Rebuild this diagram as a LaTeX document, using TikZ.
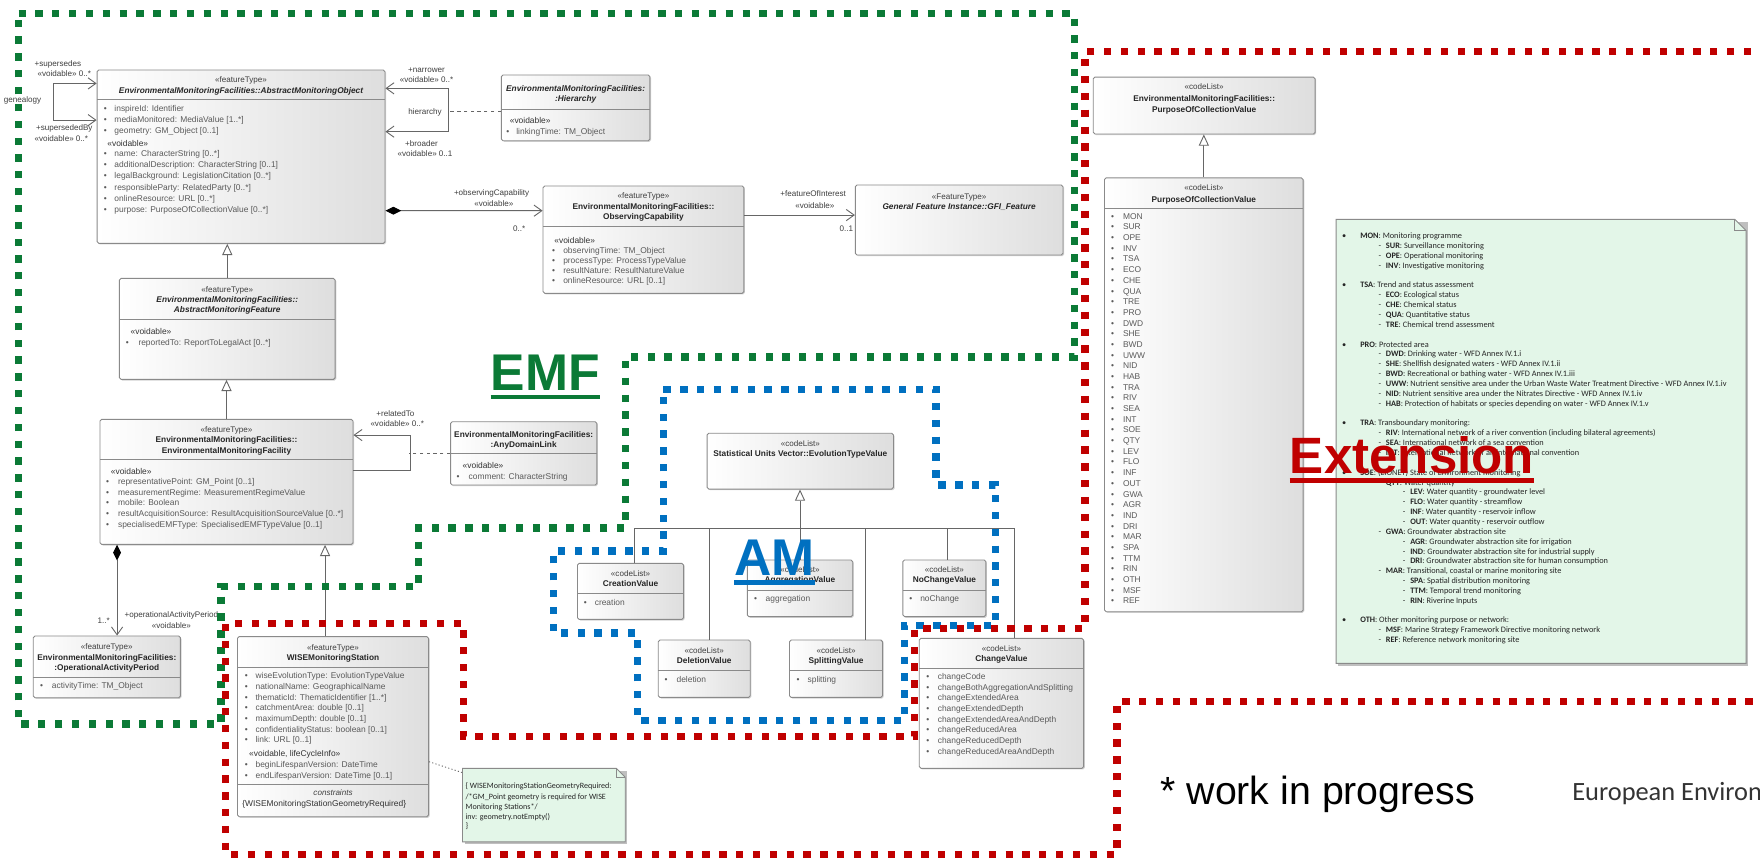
\documentclass[tikz,border=0pt]{standalone}
\usepackage{fontspec}
\setmainfont{Liberation Sans}
\newfontfamily\carlito{Carlito}
\usetikzlibrary{arrows.meta,fit,shadows,calc}
\definecolor{emfgreen}{HTML}{0B7A36}
\definecolor{amblue}{HTML}{0070C0}
\definecolor{extred}{HTML}{C00000}
\definecolor{boxline}{HTML}{8A8A8A}
\definecolor{txtgray}{HTML}{5A5A5A}
\definecolor{notefill}{HTML}{E3F6E8}
\tikzset{
 umlbox/.style={draw=boxline, line width=0.8pt, rounded corners=1.5pt, left color=white, right color=black!13, inner sep=0pt,
   drop shadow={shadow xshift=1pt, shadow yshift=-1pt, fill=black!35, opacity=0.5}},
 divl/.style={draw=boxline, line width=0.8pt},
 stx/.style={font=\fontsize{7.2}{8}\selectfont, text=black!75, inner sep=0pt, anchor=base},
 ttl/.style={font=\bfseries\fontsize{7.4}{8}\selectfont, text=black!85, inner sep=0pt, anchor=base},
 ttli/.style={font=\bfseries\itshape\fontsize{7.4}{8}\selectfont, text=black!85, inner sep=0pt, anchor=base},
 att/.style={font=\fontsize{7.5}{8}\selectfont, text=txtgray, inner sep=0pt, anchor=base west},
 vdb/.style={font=\fontsize{7.5}{8}\selectfont, text=black!80, inner sep=0pt, anchor=base west},
 lbl/.style={font=\fontsize{7.2}{8}\selectfont, text=black!75, inner sep=0pt, anchor=base},
 nt/.style={font=\carlito\fontsize{7.4}{8}\selectfont, text=black!85, inner sep=0pt, anchor=base west},
 conn/.style={draw=black!60, line width=0.8pt},
 nav/.style={conn, -{Straight Barb[length=7pt,width=10pt]}},
 gen/.style={conn, -{Triangle[open, length=10pt, width=9pt, fill=white]}},
 comp/.style={conn, {Diamond[length=14pt,width=7pt,color=black]}-{Straight Barb[length=7pt,width=10pt]}},
 region/.style={line width=6.5pt, dash pattern=on 6.5pt off 8.5pt},
}
\newcommand{\ust}[3]{\node[stx] at (#1,#2+2.4) {#3};}
\newcommand{\uhd}[3]{\node[ttl] at (#1,#2+2.6) {#3};}
\newcommand{\uhdi}[3]{\node[ttli] at (#1,#2+2.6) {#3};}
\newcommand{\uatt}[4]{\node[att] at (#1,#3+2.5) {\textbullet}; \node[att] at (#2,#3+2.5) {#4};}
\newcommand{\uvd}[3]{\node[vdb] at (#1,#2+2.5) {#3};}
\newcommand{\alab}[3]{\node[lbl] at (#1,#2+2.4) {#3};}
\newcommand{\nline}[4]{%
  \pgfmathsetmacro{\nly}{210.3+(#1-1)*8.78+2.3}%
  \ifcase#2\relax
    \node[nt] at (1195.4,\nly) {\textbullet};\node[nt] at (1211.7,\nly) {\textbf{#3}: #4};%
  \or
    \node[nt] at (1228,\nly) {-};\node[nt] at (1234.5,\nly) {\textbf{#3}: #4};%
  \or
    \node[nt] at (1249.7,\nly) {-};\node[nt] at (1256.2,\nly) {\textbf{#3}: #4};%
  \fi}
\begin{document}
\begin{tikzpicture}[x=1pt,y=-1pt]
\useasboundingbox (0,0) rectangle (1568,769);
\clip (0,0) rectangle (1568,769);
\fill[white] (0,0) rectangle (1568,769);

%% AbstractMonitoringObject
\node[umlbox, fit={(86.5,62.4) (343,216.8)}] (amo) {};
\draw[divl] (86.5,89) -- (343,89);
\ust{214.75}{71.3}{«featureType»}
\uhdi{214.75}{81}{EnvironmentalMonitoringFacilities::AbstractMonitoringObject}
\uatt{92.3}{101.8}{96.5}{inspireId: Identifier}
\uatt{92.3}{101.8}{106.3}{mediaMonitored: MediaValue [1..*]}
\uatt{92.3}{101.8}{116.7}{geometry: GM\_Object [0..1]}
\uvd{95.5}{128}{«voidable»}
\uatt{92.3}{101.8}{137}{name: CharacterString [0..*]}
\uatt{92.3}{101.8}{147}{additionalDescription: CharacterString [0..1]}
\uatt{92.3}{101.8}{156.8}{legalBackground: LegislationCitation [0..*]}
\uatt{92.3}{101.8}{167}{responsibleParty: RelatedParty [0..*]}
\uatt{92.3}{101.8}{176.7}{onlineResource: URL [0..*]}
\uatt{92.3}{101.8}{186.5}{purpose: PurposeOfCollectionValue [0..*]}

%% Hierarchy
\node[umlbox, fit={(446.7,66.8) (579,125.4)}] (hier) {};
\draw[divl] (446.7,97.1) -- (579,97.1);
\uhdi{512.85}{78.7}{EnvironmentalMonitoringFacilities:}
\uhdi{512.85}{87.6}{:Hierarchy}
\uvd{454}{107.5}{«voidable»}
\uatt{451}{459.8}{117.3}{linkingTime: TM\_Object}

%% ObservingCapability
\node[umlbox, fit={(483.8,165.7) (662.7,261.3)}] (obscap) {};
\draw[divl] (483.8,202) -- (662.7,202);
\ust{573.25}{174.6}{«featureType»}
\uhd{573.25}{184}{EnvironmentalMonitoringFacilities::}
\uhd{573.25}{193}{ObservingCapability}
\uvd{493.7}{214.5}{«voidable»}
\uatt{491.7}{501.6}{223.3}{observingTime: TM\_Object}
\uatt{491.7}{501.6}{232.2}{processType: ProcessTypeValue}
\uatt{491.7}{501.6}{241.2}{resultNature: ResultNatureValue}
\uatt{491.7}{501.6}{250}{onlineResource: URL [0..1]}

%% GFI_Feature
\node[umlbox, fit={(762,164.8) (947,227.2)}] (gfi) {};
\ust{854.5}{175.2}{«FeatureType»}
\uhdi{854.5}{184}{General Feature Instance::GFI\_Feature}

%% AbstractMonitoringFeature
\node[umlbox, fit={(106.4,248) (298.6,338)}] (amf) {};
\draw[divl] (106.4,285) -- (298.6,285);
\ust{202.5}{257.8}{«featureType»}
\uhdi{202.5}{266.7}{EnvironmentalMonitoringFacilities::}
\uhdi{202.5}{275.6}{AbstractMonitoringFeature}
\uvd{116.2}{295.5}{«voidable»}
\uatt{112}{123.2}{305.3}{reportedTo: ReportToLegalAct [0..*]}

%% EnvironmentalMonitoringFacility
\node[umlbox, fit={(89.1,373.6) (314.5,485)}] (emfac) {};
\draw[divl] (89.1,409.2) -- (314.5,409.2);
\ust{201.8}{383}{«featureType»}
\uhd{201.8}{392}{EnvironmentalMonitoringFacilities::}
\uhd{201.8}{401}{EnvironmentalMonitoringFacility}
\uvd{98.6}{420.2}{«voidable»}
\uatt{94.4}{105}{429.1}{representativePoint: GM\_Point [0..1]}
\uatt{94.4}{105}{438.6}{measurementRegime: MeasurementRegimeValue}
\uatt{94.4}{105}{448.2}{mobile: Boolean}
\uatt{94.4}{105}{458}{resultAcquisitionSource: ResultAcquisitionSourceValue [0..*]}
\uatt{94.4}{105}{467.8}{specialisedEMFType: SpecialisedEMFTypeValue [0..1]}

%% AnyDomainLink
\node[umlbox, fit={(401.4,375.7) (531.7,432.1)}] (adl) {};
\draw[divl] (401.4,403.9) -- (531.7,403.9);
\uhd{466.55}{387}{EnvironmentalMonitoringFacilities:}
\uhd{466.55}{396.5}{:AnyDomainLink}
\uvd{412}{414.9}{«voidable»}
\uatt{406.7}{417.3}{424.7}{comment: CharacterString}

%% OperationalActivityPeriod
\node[umlbox, fit={(29.6,566.6) (160.7,621.6)}] (oap) {};
\draw[divl] (29.6,603.5) -- (160.7,603.5);
\ust{95.15}{576.1}{«featureType»}
\uhd{95.15}{585.6}{EnvironmentalMonitoringFacilities:}
\uhd{95.15}{594.8}{:OperationalActivityPeriod}
\uatt{35.6}{46.1}{611.2}{activityTime: TM\_Object}

%% WISEMonitoringStation
\node[umlbox, fit={(211.6,567.2) (381.8,727.6)}] (wise) {};
\draw[divl] (211.6,594.8) -- (381.8,594.8);
\draw[divl] (211.6,698.8) -- (381.8,698.8);
\ust{296.7}{576.7}{«featureType»}
\uhd{296.7}{586}{WISEMonitoringStation}
\uatt{218}{227.5}{602.3}{wiseEvolutionType: EvolutionTypeValue}
\uatt{218}{227.5}{611.8}{nationalName: GeographicalName}
\uatt{218}{227.5}{621.3}{thematicId: ThematicIdentifier [1..*]}
\uatt{218}{227.5}{630.8}{catchmentArea: double [0..1]}
\uatt{218}{227.5}{640.3}{maximumDepth: double [0..1]}
\uatt{218}{227.5}{649.8}{confidentialityStatus: boolean [0..1]}
\uatt{218}{227.5}{659.3}{link: URL [0..1]}
\uvd{221.8}{671.8}{«voidable, lifeCycleInfo»}
\uatt{218}{227.5}{681.3}{beginLifespanVersion: DateTime}
\uatt{218}{227.5}{690.8}{endLifespanVersion: DateTime [0..1]}
\node[stx, font=\itshape\fontsize{7.2}{8}\selectfont] at (296.7,706.2+2.4) {constraints};
\uvd{215.7}{715.7}{\{WISEMonitoringStationGeometryRequired\}}

%% constraint note
\fill[black!25] (414,686.5) -- (559,686.5) -- (559,752) -- (414,752) -- cycle;
\filldraw[fill=notefill, draw=boxline, line width=0.8pt] (412,684.5) -- (549,684.5) -- (557,692.5) -- (557,750) -- (412,750) -- cycle;
\draw[boxline, line width=0.8pt] (549,684.5) -- (549,692.5) -- (557,692.5);
\node[fit={(412,684.5) (557,750)}, inner sep=0pt] (cnote) {};
\node[nt, font=\carlito\fontsize{7.2}{8}\selectfont] at (414.6,700.3+2.3) {\{ WISEMonitoringStationGeometryRequired:};
\node[nt, font=\carlito\fontsize{7.2}{8}\selectfont] at (414.6,709.8+2.3) {/*GM\_Point geometry is required for WISE};
\node[nt, font=\carlito\fontsize{7.2}{8}\selectfont] at (414.6,718.7+2.3) {Monitoring Stations*/};
\node[nt, font=\carlito\fontsize{7.2}{8}\selectfont] at (414.6,727.6+2.3) {inv: geometry.notEmpty()};
\node[nt, font=\carlito\fontsize{7.2}{8}\selectfont] at (414.6,736+2.3) {\}};

%% EvolutionTypeValue and subtypes
\node[umlbox, fit={(630,386) (796,435.7)}] (evol) {};
\ust{713}{395}{«codeList»}
\uhd{713}{403.9}{Statistical Units Vector::EvolutionTypeValue}

\node[umlbox, fit={(514.5,501.9) (609,551.8)}] (creat) {};
\draw[divl] (514.5,528.6) -- (609,528.6);
\ust{561.75}{510.8}{«codeList»}
\uhd{561.75}{519.7}{CreationValue}
\uatt{520}{529.7}{536.6}{creation}

\node[umlbox, fit={(665.8,498.9) (759.7,549.4)}] (aggr) {};
\draw[divl] (665.8,525.7) -- (759.7,525.7);
\ust{712.75}{507.8}{«codeList»}
\uhd{712.75}{516.7}{AggregationValue}
\uatt{671.6}{682}{533.7}{aggregation}

\node[umlbox, fit={(804.4,498.9) (878.3,549.4)}] (noch) {};
\draw[divl] (804.4,525.7) -- (878.3,525.7);
\ust{841.35}{507.8}{«codeList»}
\uhd{841.35}{516.7}{NoChangeValue}
\uatt{810}{819.7}{533.7}{noChange}

\node[umlbox, fit={(586.4,570.2) (668.4,621.3)}] (del) {};
\draw[divl] (586.4,597) -- (668.4,597);
\ust{627.4}{579.7}{«codeList»}
\uhd{627.4}{588.6}{DeletionValue}
\uatt{592}{602.6}{605.2}{deletion}

\node[umlbox, fit={(703.4,570.2) (786.3,621.3)}] (split) {};
\draw[divl] (703.4,597) -- (786.3,597);
\ust{744.85}{579.7}{«codeList»}
\uhd{744.85}{588.6}{SplittingValue}
\uatt{709.5}{719.3}{605.2}{splitting}

\node[umlbox, fit={(819,568.7) (965.4,684.5)}] (chg) {};
\draw[divl] (819,595.4) -- (965.4,595.4);
\ust{892.2}{577.6}{«codeList»}
\uhd{892.2}{586.8}{ChangeValue}
\foreach \c [count=\i from 0] in {changeCode,changeBothAggregationAndSplitting,changeExtendedArea,changeExtendedDepth,changeExtendedAreaAndDepth,changeReducedArea,changeReducedDepth,changeReducedAreaAndDepth}{\uatt{825.2}{835.3}{602.9+\i*9.5}{\c}}

%% PurposeOfCollectionValue
\node[umlbox, fit={(974,68.7) (1171.6,119.4)}] (popar) {};
\ust{1072.8}{77.3}{«codeList»}
\uhd{1072.8}{87.8}{EnvironmentalMonitoringFacilities::}
\uhd{1072.8}{97.4}{PurposeOfCollectionValue}

\node[umlbox, fit={(984,158.5) (1161,545)}] (pochild) {};
\draw[divl] (984,185.5) -- (1161,185.5);
\ust{1072.5}{167.4}{«codeList»}
\uhd{1072.5}{177.5}{PurposeOfCollectionValue}
\foreach \c [count=\i from 0] in {MON,SUR,OPE,INV,TSA,ECO,CHE,QUA,TRE,PRO,DWD,SHE,BWD,UWW,NID,HAB,TRA,RIV,SEA,INT,SOE,QTY,LEV,FLO,INF,OUT,GWA,AGR,IND,DRI,MAR,SPA,TTM,RIN,OTH,MSF,REF}{\uatt{989.6}{1000.3}{192.8+\i*9.52}{\c}}

%% big note
\fill[black!25] (1192.3,197.4) -- (1557.6,197.4) -- (1557.6,593) -- (1192.3,593) -- cycle;
\filldraw[fill=notefill, draw=boxline, line width=0.8pt] (1190.3,195.4) -- (1545.6,195.4) -- (1555.6,205.4) -- (1555.6,591) -- (1190.3,591) -- cycle;
\draw[boxline, line width=0.8pt] (1545.6,195.4) -- (1545.6,205.4) -- (1555.6,205.4);
\node[fit={(1190.3,195.4) (1555.6,591)}, inner sep=0pt] (bignote) {};
\nline{1}{0}{MON}{Monitoring programme}
\nline{2}{1}{SUR}{Surveillance monitoring}
\nline{3}{1}{OPE}{Operational monitoring}
\nline{4}{1}{INV}{Investigative monitoring}
\nline{6}{0}{TSA}{Trend and status assessment}
\nline{7}{1}{ECO}{Ecological status}
\nline{8}{1}{CHE}{Chemical status}
\nline{9}{1}{QUA}{Quantitative status}
\nline{10}{1}{TRE}{Chemical trend assessment}
\nline{12}{0}{PRO}{Protected area}
\nline{13}{1}{DWD}{Drinking water - WFD Annex IV.1.i}
\nline{14}{1}{SHE}{Shellfish designated waters - WFD Annex IV.1.ii}
\nline{15}{1}{BWD}{Recreational or bathing water - WFD Annex IV.1.iii}
\nline{16}{1}{UWW}{Nutrient sensitive area under the Urban Waste Water Treatment Directive - WFD Annex IV.1.iv}
\nline{17}{1}{NID}{Nutrient sensitive area under the Nitrates Directive - WFD Annex IV.1.iv}
\nline{18}{1}{HAB}{Protection of habitats or species depending on water - WFD Annex IV.1.v}
\nline{20}{0}{TRA}{Transboundary monitoring:}
\nline{21}{1}{RIV}{International network of a river convention (including bilateral agreements)}
\nline{22}{1}{SEA}{International network of a sea convention}
\nline{23}{1}{INT}{International network of an international convention}
\nline{25}{0}{SOE}{(EIONET) State of Environment monitoring}
\nline{26}{1}{QTY}{Water quantity}
\nline{27}{2}{LEV}{Water quantity - groundwater level}
\nline{28}{2}{FLO}{Water quantity - streamflow}
\nline{29}{2}{INF}{Water quantity - reservoir inflow}
\nline{30}{2}{OUT}{Water quantity - reservoir outflow}
\nline{31}{1}{GWA}{Groundwater abstraction site}
\nline{32}{2}{AGR}{Groundwater abstraction site for irrigation}
\nline{33}{2}{IND}{Groundwater abstraction site for industrial supply}
\nline{34}{2}{DRI}{Groundwater abstraction site for human consumption}
\nline{35}{1}{MAR}{Transitional, coastal or marine monitoring site}
\nline{36}{2}{SPA}{Spatial distribution monitoring}
\nline{37}{2}{TTM}{Temporal trend monitoring}
\nline{38}{2}{RIN}{Riverine Inputs}
\nline{40}{0}{OTH}{Other monitoring purpose or network:}
\nline{41}{1}{MSF}{Marine Strategy Framework Directive monitoring network}
\nline{42}{1}{REF}{Reference network monitoring site}

%% connectors
\draw[conn, {Straight Barb[length=7pt,width=10pt]}-{Straight Barb[length=7pt,width=10pt]}] ([yshift=65.3pt]amo.west) -- ++(-38.8,0) |- ([yshift=32.6pt]amo.west);
\alab{51.6}{56.4}{+supersedes}
\alab{57.3}{66}{«voidable» 0..*}
\alab{20}{89}{genealogy}
\alab{57.3}{114.3}{+supersededBy}
\alab{54.7}{124}{«voidable» 0..*}

\draw[conn, {Straight Barb[length=7pt,width=10pt]}-{Straight Barb[length=7pt,width=10pt]}] ([yshift=60.9pt]amo.east) -- ++(56.3,0) |- ([yshift=22.3pt]amo.east);
\draw[conn, dashed] ([yshift=-3pt]hier.west) -- ++(-47.4,0);
\alab{380}{62.4}{+narrower}
\alab{380}{71.3}{«voidable» 0..*}
\alab{378.7}{99.5}{hierarchy}
\alab{375.5}{128.3}{+broader}
\alab{378.7}{137.2}{«voidable» 0..1}

\draw[comp] ([yshift=-48.1pt]amo.east) -- ([yshift=25.8pt]obscap.west);
\alab{438}{171.7}{+observingCapability}
\alab{440}{181.8}{«voidable»}
\alab{462.6}{204}{0..*}

\draw[nav] ([yshift=21.9pt]obscap.east) -- ([yshift=4.4pt]gfi.west);
\alab{724.4}{172.8}{+featureOfInterest}
\alab{726}{183.2}{«voidable»}
\alab{754}{204}{0..1}

\draw[gen] (amf.north) -- (amf.north |- amo.south);
\draw[gen] (emfac.north) -- (emfac.north |- amf.south);
\draw[gen] ([xshift=-7.1pt]wise.north) -- ([xshift=-7.1pt]wise.north |- emfac.south);

\draw[conn, -{Straight Barb[length=7pt,width=10pt]}] ([yshift=10.5pt]emfac.east) -- ++(50.7,0) |- ([yshift=41.7pt]emfac.east);
\draw[conn, dashed] (adl.west) -- ++(-36.2,0);
\alab{352.2}{368.9}{+relatedTo}
\alab{353.9}{377.8}{«voidable» 0..*}

\draw[comp] ([xshift=9.15pt]oap.north |- emfac.south) -- ([xshift=9.15pt]oap.north);
\alab{92.3}{553}{1..*}
\alab{152.7}{548}{+operationalActivityPeriod}
\alab{152.7}{557.7}{«voidable»}

\draw[conn, dash pattern=on 1pt off 2pt] ([yshift=-31.2pt]wise.east) -- ([yshift=-4pt]cnote.north west);

\coordinate (bus) at (713,470.7);
\draw[gen] (aggr.north) -- (aggr.north |- evol.south);
\draw[conn] ([xshift=3.6pt]creat.north) |- (bus);
\draw[conn] ([xshift=5pt]del.north) |- (bus);
\draw[conn] ([xshift=26pt]split.north) |- (bus);
\draw[conn] ([xshift=2.6pt]noch.north) |- (bus);
\draw[conn] ([xshift=11.7pt]chg.north) |- (bus);

\draw[gen] (pochild.north) -- (pochild.north |- popar.south);

%% regions
\draw[region, emfgreen] (16.5,12) -- (957,12) -- (957,318) -- (557,318) -- (557,470.5) -- (373,470.5) -- (373,522.7) -- (197,522.7) -- (197,645) -- (16.5,645) -- cycle;
\draw[region, amblue] (591,347) -- (834,347) -- (834,432) -- (887,432) -- (887,557) -- (806,557) -- (806,642) -- (568,642) -- (568,564) -- (493,564) -- (493,491) -- (591,491) -- cycle;
\draw[region, extred] (1575,46) -- (966.7,46) -- (966.7,560) -- (815,560) -- (815,656) -- (413,656) -- (413,555.4) -- (201,555.4) -- (201,761) -- (995,761) -- (995,625) -- (1575,625);

%% big labels
\node[font=\bfseries\fontsize{46}{46}\selectfont, text=emfgreen, inner sep=0pt, anchor=base west] (emflab) at (437,347.5) {EMF};
\draw[emfgreen, line width=4pt] ([yshift=-6pt]emflab.base west) -- ([yshift=-6pt]emflab.base east);
\node[font=\bfseries\fontsize{46}{46}\selectfont, text=amblue, inner sep=0pt, anchor=base west] (amlab) at (654,512.3) {AM};
\draw[amblue, line width=4pt] ([yshift=-6.7pt]amlab.base west) -- ([yshift=-6.7pt]amlab.base east);
\node[font=\bfseries\fontsize{45.5}{46}\selectfont, text=extred, inner sep=0pt, anchor=base west] (extlab) at (1149,421.7) {Extension};
\draw[extred, line width=4pt] ([yshift=-6.5pt]extlab.base west) -- ([yshift=-6.5pt]extlab.base east);

\node[font=\fontsize{35}{36}\selectfont, inner sep=0pt, anchor=base west] (wip) at (1033.7,716.5) {* work in progress};
\node[font=\carlito\fontsize{23.5}{24}\selectfont, text=black!80, inner sep=0pt, anchor=base west] (eea) at (1400.6,712.8) {European Environment Agency};
\end{tikzpicture}
\end{document}
